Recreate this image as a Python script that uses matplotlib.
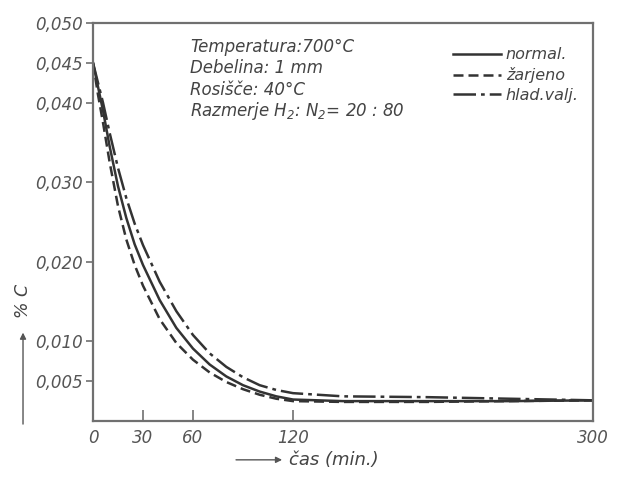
#! /usr/bin/env python

import matplotlib
matplotlib.use("Agg")
import matplotlib.pyplot as plt

# time in minutes
cas = [0, 3, 6, 10, 15, 20, 25, 30, 40, 50, 60, 70, 80, 90, 100, 110, 120, 150, 200, 250, 300]

# % C for the three states
normal = [0.045, 0.042, 0.039, 0.0345, 0.0295, 0.0255, 0.0222, 0.0196, 0.0152, 0.0117, 0.0091,
          0.0071, 0.0056, 0.0045, 0.0037, 0.0031, 0.0027, 0.0025, 0.0025, 0.0025, 0.0026]
zarjeno = [0.045, 0.041, 0.0375, 0.0325, 0.027, 0.0228, 0.0196, 0.0170, 0.0128, 0.0098, 0.0077,
           0.0061, 0.0049, 0.0040, 0.0033, 0.0028, 0.0025, 0.0024, 0.0024, 0.0025, 0.0026]
hlad_valj = [0.045, 0.0425, 0.040, 0.0362, 0.0318, 0.0280, 0.0248, 0.0221, 0.0175, 0.0138, 0.0108,
             0.0085, 0.0068, 0.0055, 0.0045, 0.0039, 0.0035, 0.0031, 0.0030, 0.0028, 0.0026]

xticks = [0, 30, 60, 120, 300]
yticks = [0.005, 0.010, 0.020, 0.030, 0.040, 0.045, 0.050]
ytick_labels = ["0,005", "0,010", "0,020", "0,030", "0,040", "0,045", "0,050"]

info = ["Temperatura:700°C", "Debelina: 1 mm", "Rosišče: 40°C",
        "Razmerje H$_2$: N$_2$= 20 : 80"]

plt.rcParams['font.family'] = ['DejaVu Sans']
plt.rcParams['font.style'] = 'italic'
ink = "#333333"
axc = "#707070"

fig = plt.figure(figsize=(6.22, 4.78), dpi=100)
ax = fig.add_axes([0.1495, 0.1192, 0.8039, 0.8327])

ax.plot(cas, normal, color=ink, lw=1.8, linestyle='-', label='normal.')
ax.plot(cas, zarjeno, color=ink, lw=1.8, linestyle=(0, (4, 2)), label='žarjeno')
ax.plot(cas, hlad_valj, color=ink, lw=1.8, linestyle=(0, (9, 2, 1.5, 2)), label='hlad.valj.')

ax.set_xlim(0, 300)
ax.set_ylim(0, 0.050)
ax.set_xticks(xticks)
ax.set_xticklabels([str(t) for t in xticks], fontsize=12, color="#555555")
ax.set_yticks(yticks)
ax.set_yticklabels(ytick_labels, fontsize=12, color="#555555")
ax.tick_params(axis='x', direction='in', length=8, width=1.2, color=axc, pad=6)
ax.tick_params(axis='y', direction='out', length=5, width=1.2, color=axc, pad=2)
for s in ax.spines.values():
    s.set_color(axc)
    s.set_linewidth(1.6)

# conditions text
for i, line in enumerate(info):
    ax.text(0.195, 0.94 - i * 0.054, line, transform=ax.transAxes, fontsize=12,
            color="#444444", va='center', ha='left')

leg = ax.legend(loc='upper right', bbox_to_anchor=(1.0, 0.975), frameon=False,
                fontsize=11.5, handlelength=3.0, handletextpad=0.3, labelspacing=0.3)
for t in leg.get_texts():
    t.set_color("#444444")

# y label with arrow
fig.text(0.037, 0.37, "% C", rotation=90, fontsize=12.5, color="#444444",
         ha='center', va='center')
fig.add_artist(matplotlib.patches.FancyArrowPatch((0.037, 0.107), (0.037, 0.31),
               transform=fig.transFigure, arrowstyle='-|>', mutation_scale=9,
               color="#555555", lw=1.0))

# x label with arrow
fig.add_artist(matplotlib.patches.FancyArrowPatch((0.375, 0.038), (0.458, 0.038),
               transform=fig.transFigure, arrowstyle='-|>', mutation_scale=9,
               color="#555555", lw=1.0))
fig.text(0.464, 0.038, "čas (min.)", fontsize=13, color="#444444", ha='left', va='center')

plt.savefig("out.png", dpi=100)
